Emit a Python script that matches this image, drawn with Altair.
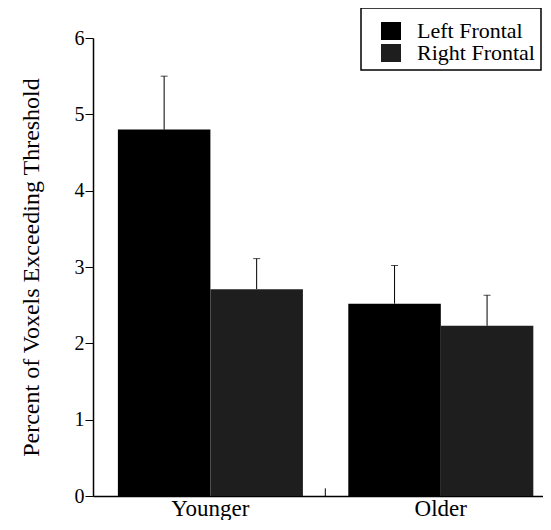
import altair as alt
import pandas as pd

groups = ["Younger", "Younger", "Older", "Older"]
regions = ["Left Frontal", "Right Frontal", "Left Frontal", "Right Frontal"]
means = [4.80, 2.71, 2.52, 2.23]
uppers = [5.50, 3.11, 3.02, 2.63]

group_order = ["Younger", "Older"]
region_order = ["Left Frontal", "Right Frontal"]
colors = ["#000000", "#1e1e1e"]

df = pd.DataFrame({"group": groups, "region": regions, "mean": means, "upper": uppers})

FONT = "Liberation Serif"

x_scale = alt.Scale(paddingInner=0.197, paddingOuter=0.075, align=0.72)
x_enc = alt.X(
    "group:N",
    sort=group_order,
    scale=x_scale,
    axis=alt.Axis(title=None, labelAngle=0, labelPadding=1, ticks=False),
)
xoff = alt.XOffset("region:N", sort=region_order, scale=alt.Scale(paddingInner=0, paddingOuter=0))

y_scale = alt.Scale(domain=[0, 6], nice=False)

bars = alt.Chart(df).mark_bar(stroke=None).encode(
    x=x_enc,
    xOffset=xoff,
    y=alt.Y(
        "mean:Q",
        scale=y_scale,
        axis=alt.Axis(
            title="Percent of Voxels Exceeding Threshold",
            titlePadding=31,
            values=[0, 1, 2, 3, 4, 5, 6],
            format="d",
            labelPadding=1,
            tickSize=8,
            grid=False,
        ),
    ),
    color=alt.Color(
        "region:N",
        sort=region_order,
        scale=alt.Scale(domain=region_order, range=colors),
        legend=alt.Legend(
            title=" ",
            titleFontSize=6,
            titlePadding=0,
            orient="none",
            legendX=268,
            legendY=-30,
            labelFont=FONT,
            labelFontSize=22,
            labelColor="black",
            symbolType="M-1,-0.9L1,-0.9L1,0.9L-1,0.9Z",
            symbolSize=400,
            symbolStrokeWidth=0,
            symbolOffset=13,
            labelOffset=15,
            rowPadding=0,
            padding=6,
            strokeColor="black",
            fillColor="white",
        ),
    ),
)

rules = alt.Chart(df).mark_rule(color="black", strokeWidth=1).encode(
    x=alt.X("group:N", sort=group_order),
    xOffset=xoff,
    y=alt.Y("mean:Q", scale=y_scale),
    y2="upper:Q",
)

caps = alt.Chart(df).mark_tick(color="black", thickness=1, size=7, orient="horizontal").encode(
    x=alt.X("group:N", sort=group_order),
    xOffset=xoff,
    y=alt.Y("upper:Q", scale=y_scale),
)

# small tick on the x axis between the two groups
mid_tick = alt.Chart(pd.DataFrame({"group": ["Older"]})).mark_rule(
    color="black", strokeWidth=1, xOffset=-23
).encode(
    x=alt.X("group:N", sort=group_order, bandPosition=0),
    y=alt.datum(0, scale=y_scale),
    y2=alt.datum(0.1),
)

chart = (
    alt.layer(bars, rules, caps, mid_tick)
    .properties(
        width=450,
        height=458,
        autosize=alt.AutoSizeParams(type="none"),
        padding={"left": 85, "top": 30, "right": 0, "bottom": 24},
        background="white",
    )
    .configure(font=FONT)
    .configure_view(stroke=None)
    .configure_legend(strokeWidth=1.5)
    .configure_axis(
        labelFont=FONT,
        labelColor="black",
        titleFont=FONT,
        titleColor="black",
        titleFontWeight="normal",
        domainColor="black",
        domainWidth=1.5,
        tickColor="black",
        grid=False,
    )
    .configure_axisX(labelFontSize=23, labelFont=FONT)
    .configure_axisY(labelFontSize=20, titleFontSize=24, labelFont=FONT, titleFont=FONT)
)

chart.save("out.html", embed_options={"renderer": "svg", "actions": False})
